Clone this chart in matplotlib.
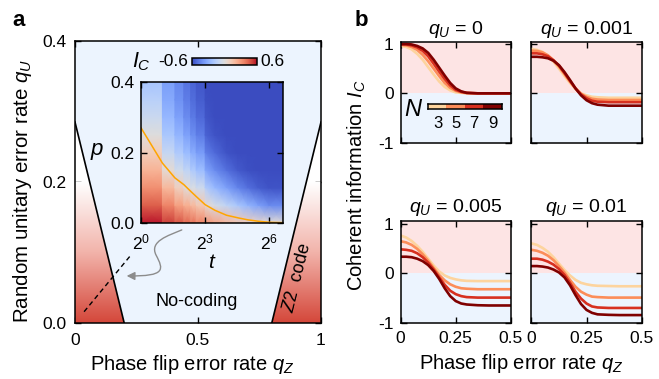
import numpy as np
import matplotlib
matplotlib.use('Agg')
import matplotlib.pyplot as plt
from matplotlib.colors import LinearSegmentedColormap, ListedColormap, Normalize
from matplotlib.cm import ScalarMappable
from matplotlib.patches import Polygon, FancyArrowPatch
from matplotlib.path import Path

plt.rcParams['font.family'] = ['Liberation Sans', 'DejaVu Sans']
plt.rcParams['mathtext.fontset'] = 'custom'
plt.rcParams['mathtext.it'] = 'Liberation Sans:italic'
plt.rcParams['mathtext.rm'] = 'Liberation Sans'
plt.rcParams['xtick.direction'] = 'in'
plt.rcParams['ytick.direction'] = 'in'
plt.rcParams['axes.linewidth'] = 1.1

# ---------------- panel a data ----------------
boundary_left_qz = [0.0, 0.2]
boundary_left_qu = [0.285, 0.0]
boundary_right_qz = [0.8, 1.0]
boundary_right_qu = [0.0, 0.285]
dash_qz = [0.037, 0.23]
dash_qu = [0.016, 0.0975]

# inset: coherent information vs circuit depth t and error p
t_edges = [1, 2, 3, 4, 5, 6, 8, 11, 16, 23, 32, 45, 64, 100]
p_rows = [0.0, 0.05, 0.1, 0.15, 0.2, 0.25, 0.3, 0.35, 0.4]
ic_cols = [
    [0.58, 0.45, 0.33, 0.22, 0.11, 0.00, -0.08, -0.15, -0.21],
    [0.52, 0.36, 0.20, 0.03, -0.10, -0.20, -0.27, -0.32, -0.36],
    [0.47, 0.28, 0.10, -0.06, -0.18, -0.28, -0.35, -0.40, -0.43],
    [0.43, 0.23, 0.02, -0.12, -0.25, -0.35, -0.42, -0.46, -0.49],
    [0.40, 0.19, -0.02, -0.18, -0.31, -0.41, -0.47, -0.51, -0.53],
    [0.36, 0.14, -0.07, -0.24, -0.37, -0.46, -0.52, -0.55, -0.57],
    [0.32, 0.05, -0.16, -0.33, -0.45, -0.53, -0.57, -0.59, -0.60],
    [0.27, -0.04, -0.26, -0.42, -0.52, -0.58, -0.60, -0.60, -0.60],
    [0.20, -0.12, -0.35, -0.50, -0.58, -0.60, -0.60, -0.60, -0.60],
    [0.14, -0.20, -0.44, -0.56, -0.60, -0.60, -0.60, -0.60, -0.60],
    [0.10, -0.28, -0.50, -0.59, -0.60, -0.60, -0.60, -0.60, -0.60],
    [0.06, -0.35, -0.55, -0.60, -0.60, -0.60, -0.60, -0.60, -0.60],
    [0.02, -0.42, -0.58, -0.60, -0.60, -0.60, -0.60, -0.60, -0.60],
]
n_banded = 6  # short depths show as separate bands, longer depths look smooth
contour_t = [1, 2, 3, 4, 5, 6, 8, 11, 16, 24, 32, 45, 64, 100]
contour_p = [0.27, 0.17, 0.128, 0.109, 0.09, 0.075, 0.052, 0.036, 0.022, 0.014, 0.009, 0.005, 0.002, 0.001]

# ---------------- panel b data ----------------
qz = [0, 0.025, 0.05, 0.075, 0.1, 0.125, 0.15, 0.175, 0.2, 0.225, 0.25, 0.275, 0.3, 0.35, 0.4, 0.5]
N_values = [3, 5, 7, 9]
N_colors = ['#fdd49e', '#fc8d59', '#d7301f', '#7f0000']
qU_titles = ['0', '0.001', '0.005', '0.01']

ic_qU0 = [
    [0.96, 0.94, 0.89, 0.80, 0.68, 0.53, 0.38, 0.24, 0.13, 0.06, 0.02, 0.01, 0.0, 0.0, 0.0, 0.0],
    [0.98, 0.97, 0.94, 0.88, 0.78, 0.65, 0.50, 0.35, 0.21, 0.11, 0.05, 0.02, 0.005, 0.0, 0.0, 0.0],
    [0.99, 0.99, 0.97, 0.93, 0.86, 0.75, 0.60, 0.44, 0.29, 0.16, 0.07, 0.03, 0.01, 0.0, 0.0, 0.0],
    [1.00, 1.00, 0.99, 0.96, 0.91, 0.82, 0.68, 0.52, 0.36, 0.21, 0.10, 0.04, 0.01, 0.0, 0.0, 0.0],
]
ic_qU001 = [
    [0.90, 0.88, 0.84, 0.76, 0.64, 0.50, 0.35, 0.21, 0.09, 0.00, -0.04, -0.07, -0.08, -0.09, -0.09, -0.09],
    [0.865, 0.86, 0.83, 0.77, 0.67, 0.54, 0.39, 0.24, 0.10, -0.01, -0.07, -0.11, -0.125, -0.135, -0.135, -0.135],
    [0.81, 0.81, 0.79, 0.75, 0.67, 0.56, 0.41, 0.25, 0.10, -0.02, -0.10, -0.15, -0.17, -0.18, -0.18, -0.18],
    [0.74, 0.74, 0.73, 0.71, 0.66, 0.57, 0.43, 0.27, 0.10, -0.04, -0.14, -0.20, -0.23, -0.25, -0.25, -0.25],
]
ic_qU005 = [
    [0.77, 0.73, 0.66, 0.56, 0.44, 0.30, 0.16, 0.04, -0.04, -0.09, -0.12, -0.14, -0.15, -0.155, -0.155, -0.155],
    [0.655, 0.63, 0.58, 0.50, 0.39, 0.26, 0.11, -0.03, -0.14, -0.22, -0.27, -0.30, -0.31, -0.32, -0.32, -0.32],
    [0.49, 0.48, 0.46, 0.41, 0.33, 0.22, 0.08, -0.08, -0.23, -0.35, -0.42, -0.46, -0.48, -0.49, -0.49, -0.49],
    [0.34, 0.34, 0.33, 0.30, 0.25, 0.17, 0.05, -0.11, -0.30, -0.46, -0.56, -0.61, -0.63, -0.645, -0.65, -0.65],
]
ic_qU01 = [
    [0.61, 0.58, 0.52, 0.44, 0.33, 0.20, 0.07, -0.04, -0.13, -0.19, -0.22, -0.24, -0.25, -0.255, -0.26, -0.26],
    [0.48, 0.46, 0.42, 0.36, 0.27, 0.15, 0.02, -0.13, -0.27, -0.37, -0.43, -0.47, -0.48, -0.49, -0.49, -0.49],
    [0.30, 0.30, 0.28, 0.24, 0.18, 0.09, -0.03, -0.19, -0.37, -0.51, -0.61, -0.67, -0.69, -0.70, -0.70, -0.70],
    [0.15, 0.15, 0.14, 0.12, 0.08, 0.02, -0.08, -0.24, -0.44, -0.62, -0.74, -0.80, -0.83, -0.84, -0.845, -0.845],
]

pink = '#fde4e4'
light_blue = '#ecf4fe'
TICK = 12.5
LABEL = 14.5

fig = plt.figure(figsize=(6.59, 3.79), dpi=100)

# ================= panel a =================
ax = fig.add_axes([0.1138, 0.1478, 0.3733, 0.744])
ax.set_facecolor(light_blue)
ax.set_xlim(0, 1)
ax.set_ylim(0, 0.4)

red_cmap = LinearSegmentedColormap.from_list('wr', ['#ffffff', '#f2b3aa', '#d4473a'])
grad = np.linspace(1, 0, 256)[:, None]
polys = [
    [(boundary_left_qz[0], 0), (boundary_left_qz[1], 0), (0, boundary_left_qu[0])],
    [(boundary_right_qz[0], 0), (1, 0), (1, boundary_right_qu[1])],
]
for pts in polys:
    white = Polygon(pts, closed=True, facecolor='white', edgecolor='none', zorder=1)
    ax.add_patch(white)
    clip = Polygon(pts, closed=True, facecolor='none', edgecolor='none')
    ax.add_patch(clip)
    im = ax.imshow(grad, cmap=red_cmap, vmin=0, vmax=1, origin='lower',
                   extent=[0, 1, 0, 0.2], aspect='auto', zorder=2)
    im.set_clip_path(clip)

ax.plot(boundary_left_qz, boundary_left_qu, color='k', lw=1.2, zorder=3)
ax.plot(boundary_right_qz, boundary_right_qu, color='k', lw=1.2, zorder=3)
ax.plot(dash_qz, dash_qu, color='k', lw=1.0, ls=(0, (3.5, 2.5)), zorder=3)

ax.set_xticks([0, 0.5, 1])
ax.set_xticklabels(['0', '0.5', '1'])
ax.set_yticks([0, 0.2, 0.4])
ax.set_yticklabels(['0.0', '0.2', '0.4'])
ax.tick_params(top=True, right=True, length=4, width=1, labelsize=TICK)
ax.tick_params(axis='x', pad=7)
ax.tick_params(axis='y', pad=6)
ax.set_xlabel('Phase flip error rate $q_Z$', fontsize=LABEL, labelpad=4)
ax.set_ylabel('Random unitary error rate $q_U$', fontsize=14.8, labelpad=6)
ax.xaxis.label.set_x(0.475)
ax.yaxis.label.set_y(0.47)

ax.text(0.088, 0.243, '$p$', fontsize=16, ha='center', va='center', zorder=4)
ax.text(0.495, 0.031, 'No-coding', fontsize=13, ha='center', va='center', zorder=4)
ax.text(0.905, 0.064, r'$Z$2  code', fontsize=13, ha='center', va='center',
        rotation=76, zorder=4)

# curvy gray arrow from the inset
verts = [(0.434, 0.33), (0.38, 0.31), (0.30, 0.29), (0.33, 0.24),
         (0.36, 0.19), (0.37, 0.165), (0.21, 0.167)]
codes = [Path.MOVETO] + [Path.CURVE4] * 6
arrow = FancyArrowPatch(path=Path(verts, codes), arrowstyle='-|>', mutation_scale=12,
                        color='#8c8c8c', lw=1.0, transform=ax.transAxes, zorder=4)
ax.add_patch(arrow)

fig.text(0.028, 0.947, 'a', fontsize=16, fontweight='bold', ha='center', va='center')

# inset heatmap
axin = fig.add_axes([0.214, 0.4116, 0.2155, 0.372])
axin.set_xscale('log', base=2)
for i in range(n_banded):
    X = np.array([[t_edges[i], t_edges[i + 1]] for _ in p_rows])
    Y = np.array([[p, p] for p in p_rows])
    C = np.array([[v, v] for v in ic_cols[i]])
    axin.pcolormesh(X, Y, C, shading='gouraud', cmap='coolwarm', vmin=-0.6, vmax=0.6,
                    antialiased=False)
# smooth part: one shaded mesh through the remaining columns
t_smooth = t_edges[n_banded:]
cols_smooth = ic_cols[n_banded:] + [ic_cols[-1]]
Xs, Ys = np.meshgrid(t_smooth, p_rows)
Cs = np.array(cols_smooth).T
axin.pcolormesh(Xs, Ys, Cs, shading='gouraud', cmap='coolwarm', vmin=-0.6, vmax=0.6,
                antialiased=False)
axin.plot(contour_t, contour_p, color='#ffa500', lw=1.1)
axin.set_xlim(1, 100)
axin.set_ylim(0, 0.4)
axin.set_xticks([1, 8, 64])
axin.set_xticklabels(['$2^0$', '$2^3$', '$2^6$'])
axin.xaxis.set_minor_locator(matplotlib.ticker.NullLocator())
axin.set_yticks([0, 0.2, 0.4])
axin.set_yticklabels(['0.0', '0.2', '0.4'])
axin.tick_params(top=True, right=True, length=4, width=1, labelsize=TICK)
axin.tick_params(axis='x', pad=7)
axin.tick_params(axis='y', pad=5)
axin.set_xlabel('$t$', fontsize=15, labelpad=0)

cax = fig.add_axes([0.291, 0.829, 0.099, 0.018])
fig.colorbar(ScalarMappable(norm=Normalize(-0.6, 0.6), cmap='coolwarm'), cax=cax,
             orientation='horizontal')
cax.set_xticks([])
cax.text(-0.06, 0.5, '-0.6', transform=cax.transAxes, ha='right', va='center', fontsize=TICK)
cax.text(1.05, 0.5, '0.6', transform=cax.transAxes, ha='left', va='center', fontsize=TICK)
fig.text(0.214, 0.838, '$I_C$', fontsize=15.5, ha='center', va='center')

# ================= panel b =================
positions = [
    [0.608, 0.6235, 0.167, 0.2644],
    [0.8065, 0.6235, 0.167, 0.2644],
    [0.608, 0.1485, 0.167, 0.269],
    [0.8065, 0.1485, 0.167, 0.269],
]
all_curves = [ic_qU0, ic_qU001, ic_qU005, ic_qU01]
ytops = [1.03, 1.03, 1.07, 1.07]

for k in range(4):
    bx = fig.add_axes(positions[k])
    bx.axhspan(0, 2, color=pink, lw=0, zorder=0)
    bx.axhspan(-2, 0, color=light_blue, lw=0, zorder=0)
    for n in range(4):
        bx.plot(qz, all_curves[k][n], color=N_colors[n], lw=1.9, zorder=2)
    bx.set_xlim(0, 0.5)
    bx.set_ylim(-1, ytops[k])
    bx.set_xticks([0, 0.25, 0.5])
    bx.set_yticks([-1, 0, 1])
    bx.tick_params(top=True, right=True, length=4, width=1, labelsize=TICK)
    if k < 2:
        bx.set_xticklabels([])
    else:
        bx.set_xticklabels(['0', '0.25', '0.5'])
        bx.tick_params(axis='x', pad=6)
    if k % 2 == 1:
        bx.set_yticklabels([])
    else:
        bx.set_yticklabels(['-1', '0', '1'])
        bx.tick_params(axis='y', pad=5)
    bx.set_title('$q_U$ = ' + qU_titles[k], fontsize=14, pad=6)

fig.text(0.549, 0.947, 'b', fontsize=16, fontweight='bold', ha='center', va='center')
fig.text(0.541, 0.51, 'Coherent information $I_C$', rotation=90, fontsize=LABEL,
         ha='center', va='center')
fig.text(0.791, 0.042, 'Phase flip error rate $q_Z$', fontsize=LABEL, ha='center', va='center')

# N legend bar
lax = fig.add_axes([0.650, 0.7116, 0.1114, 0.0132])
lax.imshow([[0, 1, 2, 3]], cmap=ListedColormap(N_colors), aspect='auto')
lax.set_xticks(range(4))
lax.set_xticklabels([str(n) for n in N_values])
lax.set_yticks([])
lax.tick_params(length=0, labelsize=12, pad=5)
fig.text(0.627, 0.710, '$N$', fontsize=17, ha='center', va='center')

fig.savefig('out.png', dpi=100)
